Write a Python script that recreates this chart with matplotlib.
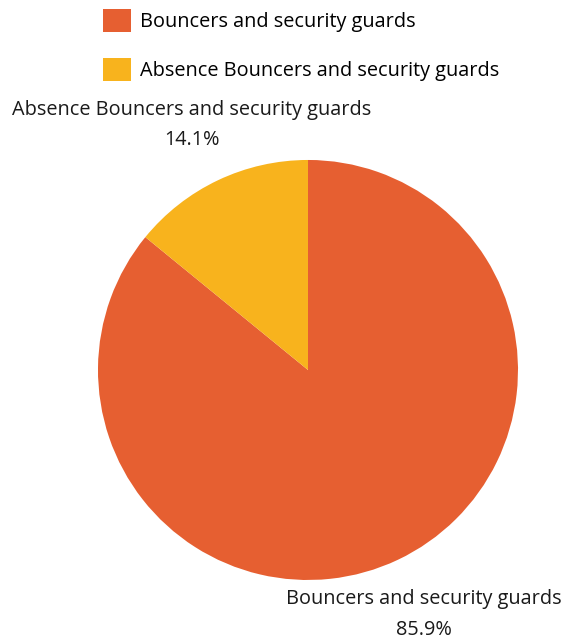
import matplotlib.pyplot as plt
from matplotlib.patches import Patch

plt.rcParams['font.family'] = ['Open Sans', 'DejaVu Sans']

names = ['Bouncers and security guards', 'Absence Bouncers and security guards']
shares = [85.9, 14.1]
colors = ['#E65F31', '#F8B31D']

fig = plt.figure(figsize=(5.71, 6.44), dpi=100)
ax = fig.add_axes([0.1716, 0.0994, 0.7356, 0.6522])

labels = [f'{n}\n{v}%' for n, v in zip(names, shares)]
wedges, texts = ax.pie(shares, colors=colors, startangle=90, counterclock=False,
                       labels=labels, labeldistance=1.29, radius=1,
                       wedgeprops=dict(linewidth=0),
                       textprops=dict(fontsize=14.3, color='#1a1a1a', linespacing=1.7))
for t in texts:
    t.set_ha('center')
    t.set_va('center')
ax.set_xlim(-1, 1)
ax.set_ylim(-1, 1)

handles = [Patch(facecolor=c, edgecolor='none') for c in colors]
fig.legend(handles, names, loc='upper left', bbox_to_anchor=(103 / 571, 1 - 9 / 644),
           frameon=False, fontsize=14.3, handlelength=1.4, handleheight=1.4,
           handletextpad=0.45, labelspacing=1.3, borderaxespad=0, borderpad=0)

fig.savefig('out.png', dpi=100)
